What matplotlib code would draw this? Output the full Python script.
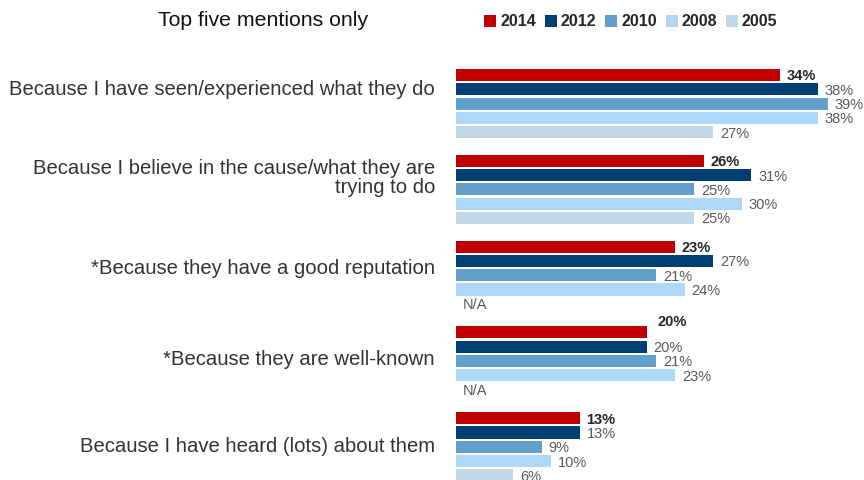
import matplotlib.pyplot as plt
from matplotlib.patches import Patch

plt.rcParams['font.family'] = ['Liberation Sans', 'DejaVu Sans']

# reasons, top to bottom
reasons = [
    "Because I have seen/experienced what they do",
    "Because I believe in the cause/what they are\ntrying to do",
    "*Because they have a good reputation",
    "*Because they are well-known",
    "Because I have heard (lots) about them",
]
years = ["2014", "2012", "2010", "2008", "2005"]
colors = ["#C00000", "#003F73", "#629FCA", "#AED8FA", "#C0D8E8"]

# percentages per year (None = not asked that year)
v2014 = [34, 26, 23, 20, 13]
v2012 = [38, 31, 27, 20, 13]
v2010 = [39, 25, 21, 21, 9]
v2008 = [38, 30, 24, 23, 10]
v2005 = [27, 25, None, None, 6]
values = [v2014, v2012, v2010, v2008, v2005]

# vertical nudge of the reason labels (in bar slots)
label_shift = [-1.0, -0.8, -0.5, -0.1, 0.0]

fig = plt.figure(figsize=(8.64, 4.8), dpi=100)
ax = fig.add_axes([456 / 864, 0, 408 / 864, 420 / 480])
ax.set_xlim(0, 408 / 9.53)
ax.set_ylim(28.32, -1.05)
ax.axis('off')

group_gap = 6
for i, reason in enumerate(reasons):
    for j, vals in enumerate(values):
        y = group_gap * i + j
        v = vals[i]
        if v is None:
            ax.text(0.7, y + 0.1, "N/A", va='center', ha='left', fontsize=10.5,
                    color='#595959', clip_on=False)
            continue
        ax.barh(y, v, height=0.85, color=colors[j], linewidth=0)
        dx, dy = 0.7, 0.1
        if j == 0 and i == 3:
            dx, dy = 1.1, -0.7
        if j == 0:
            ax.text(v + dx, y + dy, f"{v}%", va='center', ha='left', fontsize=10.5,
                    fontweight='bold', color='#262626', clip_on=False)
        else:
            ax.text(v + dx, y + dy, f"{v}%", va='center', ha='left', fontsize=10.5,
                    color='#595959', clip_on=False)
    ax.text(-2.2, group_gap * i + 2 + label_shift[i], reason, ha='right', va='center',
            fontsize=14.6, color='#333333', linespacing=1.0, clip_on=False)

fig.text(158 / 864, 1 - 21 / 480, "Top five mentions only", ha='left', va='center',
         fontsize=15.3, color='#111111')

handles = [Patch(facecolor=c, edgecolor='none', label=yr) for c, yr in zip(colors, years)]
leg = fig.legend(handles=handles, loc='center left', bbox_to_anchor=(470 / 864, 1 - 22 / 480),
                 ncol=5, frameon=False, handlelength=0.75, handleheight=0.75,
                 handletextpad=0.25, columnspacing=0.55,
                 prop={'size': 11.5, 'weight': 'bold'})
for t in leg.get_texts():
    t.set_color('#262626')

fig.savefig("out.png", dpi=100)
